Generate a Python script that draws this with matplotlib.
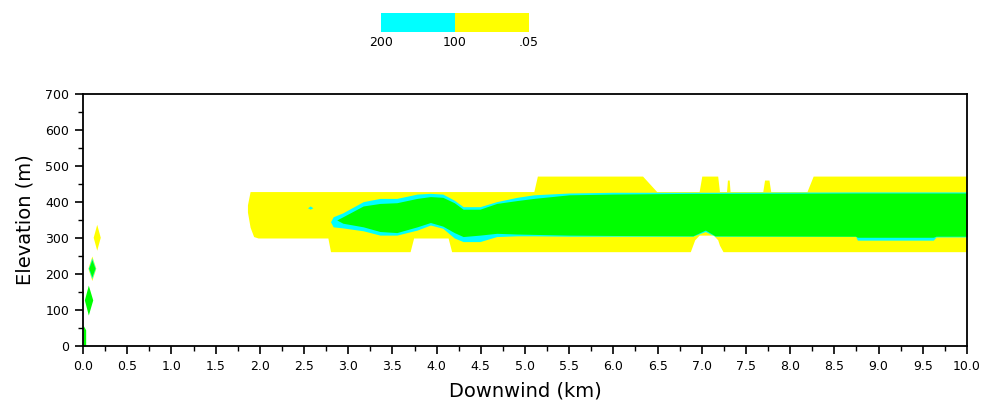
import matplotlib
matplotlib.use('Agg')
import matplotlib.pyplot as plt
import matplotlib as mpl
from matplotlib.colors import ListedColormap, BoundaryNorm
import numpy as np

# concentration classes (legend)
levels = [0.05, 100, 200]
level_labels = ['.05', '100', '200']
c_low, c_mid, c_high = '#ffff00', '#00ffff', '#00ff00'

# main plume: outer band (.05 - 100)
yel_x = [1.86, 1.89, 1.93, 1.98, 2.77, 2.80, 3.70, 3.74, 4.13, 4.17, 5.10, 5.14, 6.33, 6.49,
         6.87, 6.92, 6.97, 7.00, 7.13, 7.18, 7.20, 7.24, 7.28, 7.29, 7.31, 7.32,
         7.69, 7.71, 7.76, 7.78, 8.19, 8.26, 10.0]
yel_top = [392, 429, 429, 429, 429, 429, 429, 429, 429, 429, 429, 472, 472, 429,
           429, 429, 429, 472, 472, 472, 429, 429, 429, 461, 461, 429,
           429, 461, 461, 429, 429, 472, 472]
yel_bot = [372, 330, 304, 300, 300, 262, 262, 300, 300, 262, 262, 262, 262, 262,
           262, 295, 308, 308, 308, 295, 280, 262, 262, 262, 262, 262,
           262, 262, 262, 262, 262, 262, 262]

# main plume: 100 - 200 band
cyan_x = [2.80, 2.83, 2.94, 3.17, 3.36, 3.55, 3.78, 3.93, 4.07, 4.20, 4.30, 4.49, 4.68, 4.91,
          5.10, 5.50, 6.00, 6.90, 7.04, 7.15, 8.74, 8.76, 9.62, 9.65, 10.0]
cyan_top = [345, 359, 370, 401, 410, 410, 422, 424, 422, 405, 387, 387, 401, 413,
            420, 425, 427, 427, 427, 427, 428, 428, 428, 428, 428]
cyan_bot = [345, 331, 328, 320, 308, 308, 322, 336, 327, 300, 290, 290, 304, 306,
            306, 305, 305, 305, 318, 305, 305, 294, 294, 303, 303]

# main plume: > 200 core
grn_x = [2.87, 2.94, 3.17, 3.36, 3.55, 3.78, 3.93, 4.07, 4.20, 4.30, 4.49, 4.68, 4.91,
         5.10, 5.50, 6.00, 6.90, 7.04, 7.15, 8.74, 8.76, 9.62, 9.65, 10.0]
grn_top = [350, 359, 389, 396, 398, 410, 415, 413, 398, 380, 380, 396, 404,
           410, 420, 422, 424, 424, 424, 425, 425, 425, 425, 425]
grn_bot = [350, 341, 331, 318, 315, 331, 343, 333, 315, 304, 308, 313, 311,
           310, 308, 307, 306, 322, 306, 305, 302, 302, 305, 305]

# small patches near the source
dot_x, dot_top, dot_bot = [2.54, 2.57, 2.60], [384, 389, 384], [384, 380, 384]
srcA_x, srcA_top, srcA_bot = [0.0, 0.03], [58, 45], [0, 0]
srcB_x, srcB_top, srcB_bot = [0.015, 0.06, 0.11], [128, 169, 128], [128, 86, 128]
srcC_x, srcC_top, srcC_bot = [0.055, 0.10, 0.145], [216, 250, 216], [216, 182, 216]
srcC2_x, srcC2_top, srcC2_bot = [0.06, 0.10, 0.14], [216, 245, 216], [216, 187, 216]
srcC3_x, srcC3_top, srcC3_bot = [0.065, 0.10, 0.135], [216, 240, 216], [216, 192, 216]
srcD_x, srcD_top, srcD_bot = [0.115, 0.155, 0.195], [302, 338, 302], [302, 266, 302]

fig = plt.figure(figsize=(9.86, 4.05), dpi=100)
ax = fig.add_axes([0.0842, 0.1457, 0.8965, 0.6222])

ax.fill_between(yel_x, yel_bot, yel_top, color=c_low, lw=0)
ax.fill_between(cyan_x, cyan_bot, cyan_top, color=c_mid, lw=0)
ax.fill_between(grn_x, grn_bot, grn_top, color=c_high, lw=0)
ax.fill_between(dot_x, dot_bot, dot_top, color=c_mid, lw=0)
ax.fill_between(srcA_x, srcA_bot, srcA_top, color=c_high, lw=0)
ax.fill_between(srcB_x, srcB_bot, srcB_top, color=c_high, lw=0)
ax.fill_between(srcC_x, srcC_bot, srcC_top, color=c_low, lw=0)
ax.fill_between(srcC2_x, srcC2_bot, srcC2_top, color=c_mid, lw=0)
ax.fill_between(srcC3_x, srcC3_bot, srcC3_top, color=c_high, lw=0)
ax.fill_between(srcD_x, srcD_bot, srcD_top, color=c_low, lw=0)

ax.set_xlim(0, 10)
ax.set_ylim(0, 700)
ax.set_xticks(np.arange(0, 10.01, 0.5))
ax.set_xticklabels([f'{v:.1f}' for v in np.arange(0, 10.01, 0.5)])
ax.set_xticks(np.arange(0, 10.01, 0.25), minor=True)
ax.set_yticks(np.arange(0, 701, 100))
ax.set_yticks(np.arange(0, 701, 50), minor=True)
ax.tick_params(which='major', length=6, width=1.2, labelsize=9, direction='out', pad=4)
ax.tick_params(which='minor', length=3.5, width=1.0, direction='out')
for s in ax.spines.values():
    s.set_linewidth(1.3)
ax.set_xlabel('Downwind (km)', fontsize=14, labelpad=6)
ax.set_ylabel('Elevation (m)', fontsize=14, labelpad=8)

# legend bar at the top
cax = fig.add_axes([0.3864, 0.921, 0.1501, 0.0469])
cmap = ListedColormap([c_low, c_mid])
norm = BoundaryNorm(levels, cmap.N)
cb = mpl.colorbar.ColorbarBase(cax, cmap=cmap, norm=norm, orientation='horizontal',
                               spacing='uniform', ticks=levels)
cb.ax.set_xticklabels(level_labels)
cb.outline.set_visible(False)
cax.invert_xaxis()
cax.tick_params(length=0, labelsize=9, pad=3)

fig.savefig('out.png', dpi=100)
